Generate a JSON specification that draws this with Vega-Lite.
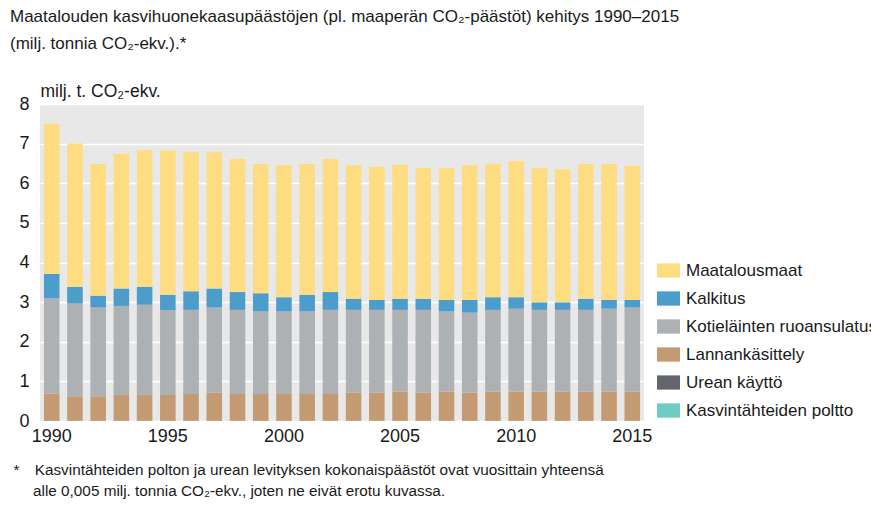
{
  "$schema": "https://vega.github.io/schema/vega-lite/v6.json",
  "width": 604,
  "height": 317,
  "autosize": {"type": "none"},
  "padding": {"left": 40, "top": 104, "right": 227, "bottom": 89},
  "background": "white",
  "title": {
    "text": ["Maatalouden kasvihuonekaasupäästöjen (pl. maaperän CO₂-päästöt) kehitys 1990–2015", "(milj. tonnia CO₂-ekv.).*"],
    "anchor": "start",
    "frame": "group",
    "dx": -30,
    "dy": -19,
    "font": "Liberation Sans",
    "fontSize": 17,
    "fontWeight": "normal",
    "color": "#1a1a1a",
    "lineHeight": 27,
    "offset": 10
  },
  "data": {
    "values": [
      {"vuosi": 1990, "Maatalousmaat": 3.79, "Kalkitus": 0.62, "Kotieläinten ruoansulatus": 2.40, "Lannankäsittely": 0.69, "Urean käyttö": 0.003, "Kasvintähteiden poltto": 0.001},
      {"vuosi": 1991, "Maatalousmaat": 3.62, "Kalkitus": 0.42, "Kotieläinten ruoansulatus": 2.34, "Lannankäsittely": 0.62, "Urean käyttö": 0.003, "Kasvintähteiden poltto": 0.001},
      {"vuosi": 1992, "Maatalousmaat": 3.32, "Kalkitus": 0.30, "Kotieläinten ruoansulatus": 2.24, "Lannankäsittely": 0.62, "Urean käyttö": 0.003, "Kasvintähteiden poltto": 0.001},
      {"vuosi": 1993, "Maatalousmaat": 3.40, "Kalkitus": 0.44, "Kotieläinten ruoansulatus": 2.25, "Lannankäsittely": 0.65, "Urean käyttö": 0.003, "Kasvintähteiden poltto": 0.001},
      {"vuosi": 1994, "Maatalousmaat": 3.45, "Kalkitus": 0.45, "Kotieläinten ruoansulatus": 2.28, "Lannankäsittely": 0.65, "Urean käyttö": 0.003, "Kasvintähteiden poltto": 0.001},
      {"vuosi": 1995, "Maatalousmaat": 3.64, "Kalkitus": 0.38, "Kotieläinten ruoansulatus": 2.15, "Lannankäsittely": 0.65, "Urean käyttö": 0.003, "Kasvintähteiden poltto": 0.001},
      {"vuosi": 1996, "Maatalousmaat": 3.51, "Kalkitus": 0.47, "Kotieläinten ruoansulatus": 2.12, "Lannankäsittely": 0.68, "Urean käyttö": 0.003, "Kasvintähteiden poltto": 0.001},
      {"vuosi": 1997, "Maatalousmaat": 3.44, "Kalkitus": 0.48, "Kotieläinten ruoansulatus": 2.15, "Lannankäsittely": 0.71, "Urean käyttö": 0.003, "Kasvintähteiden poltto": 0.001},
      {"vuosi": 1998, "Maatalousmaat": 3.36, "Kalkitus": 0.45, "Kotieläinten ruoansulatus": 2.12, "Lannankäsittely": 0.68, "Urean käyttö": 0.003, "Kasvintähteiden poltto": 0.001},
      {"vuosi": 1999, "Maatalousmaat": 3.26, "Kalkitus": 0.46, "Kotieläinten ruoansulatus": 2.08, "Lannankäsittely": 0.68, "Urean käyttö": 0.003, "Kasvintähteiden poltto": 0.001},
      {"vuosi": 2000, "Maatalousmaat": 3.33, "Kalkitus": 0.36, "Kotieläinten ruoansulatus": 2.08, "Lannankäsittely": 0.68, "Urean käyttö": 0.003, "Kasvintähteiden poltto": 0.001},
      {"vuosi": 2001, "Maatalousmaat": 3.30, "Kalkitus": 0.42, "Kotieläinten ruoansulatus": 2.08, "Lannankäsittely": 0.68, "Urean käyttö": 0.003, "Kasvintähteiden poltto": 0.001},
      {"vuosi": 2002, "Maatalousmaat": 3.36, "Kalkitus": 0.45, "Kotieläinten ruoansulatus": 2.12, "Lannankäsittely": 0.68, "Urean käyttö": 0.003, "Kasvintähteiden poltto": 0.001},
      {"vuosi": 2003, "Maatalousmaat": 3.37, "Kalkitus": 0.28, "Kotieläinten ruoansulatus": 2.09, "Lannankäsittely": 0.71, "Urean käyttö": 0.003, "Kasvintähteiden poltto": 0.001},
      {"vuosi": 2004, "Maatalousmaat": 3.36, "Kalkitus": 0.25, "Kotieläinten ruoansulatus": 2.09, "Lannankäsittely": 0.71, "Urean käyttö": 0.003, "Kasvintähteiden poltto": 0.001},
      {"vuosi": 2005, "Maatalousmaat": 3.38, "Kalkitus": 0.28, "Kotieläinten ruoansulatus": 2.06, "Lannankäsittely": 0.74, "Urean käyttö": 0.003, "Kasvintähteiden poltto": 0.001},
      {"vuosi": 2006, "Maatalousmaat": 3.30, "Kalkitus": 0.28, "Kotieläinten ruoansulatus": 2.09, "Lannankäsittely": 0.71, "Urean käyttö": 0.003, "Kasvintähteiden poltto": 0.001},
      {"vuosi": 2007, "Maatalousmaat": 3.33, "Kalkitus": 0.29, "Kotieläinten ruoansulatus": 2.02, "Lannankäsittely": 0.74, "Urean käyttö": 0.003, "Kasvintähteiden poltto": 0.001},
      {"vuosi": 2008, "Maatalousmaat": 3.40, "Kalkitus": 0.32, "Kotieläinten ruoansulatus": 2.02, "Lannankäsittely": 0.71, "Urean käyttö": 0.003, "Kasvintähteiden poltto": 0.001},
      {"vuosi": 2009, "Maatalousmaat": 3.37, "Kalkitus": 0.32, "Kotieläinten ruoansulatus": 2.06, "Lannankäsittely": 0.74, "Urean käyttö": 0.003, "Kasvintähteiden poltto": 0.001},
      {"vuosi": 2010, "Maatalousmaat": 3.44, "Kalkitus": 0.29, "Kotieläinten ruoansulatus": 2.09, "Lannankäsittely": 0.74, "Urean käyttö": 0.003, "Kasvintähteiden poltto": 0.001},
      {"vuosi": 2011, "Maatalousmaat": 3.39, "Kalkitus": 0.19, "Kotieläinten ruoansulatus": 2.06, "Lannankäsittely": 0.74, "Urean käyttö": 0.003, "Kasvintähteiden poltto": 0.001},
      {"vuosi": 2012, "Maatalousmaat": 3.36, "Kalkitus": 0.19, "Kotieläinten ruoansulatus": 2.06, "Lannankäsittely": 0.74, "Urean käyttö": 0.003, "Kasvintähteiden poltto": 0.001},
      {"vuosi": 2013, "Maatalousmaat": 3.40, "Kalkitus": 0.28, "Kotieläinten ruoansulatus": 2.06, "Lannankäsittely": 0.74, "Urean käyttö": 0.003, "Kasvintähteiden poltto": 0.001},
      {"vuosi": 2014, "Maatalousmaat": 3.43, "Kalkitus": 0.22, "Kotieläinten ruoansulatus": 2.09, "Lannankäsittely": 0.74, "Urean käyttö": 0.003, "Kasvintähteiden poltto": 0.001},
      {"vuosi": 2015, "Maatalousmaat": 3.39, "Kalkitus": 0.19, "Kotieläinten ruoansulatus": 2.12, "Lannankäsittely": 0.74, "Urean käyttö": 0.003, "Kasvintähteiden poltto": 0.001}
    ]
  },
  "transform": [
    {"fold": ["Kasvintähteiden poltto", "Urean käyttö", "Lannankäsittely", "Kotieläinten ruoansulatus", "Kalkitus", "Maatalousmaat"], "as": ["luokka", "arvo"]},
    {"window": [{"op": "row_number", "as": "jarjestys"}], "groupby": ["vuosi"]}
  ],
  "mark": {"type": "bar", "stroke": null},
  "encoding": {
    "x": {
      "field": "vuosi",
      "type": "ordinal",
      "scale": {"paddingInner": 0.33, "paddingOuter": 0.17},
      "axis": {
        "values": [1990, 1995, 2000, 2005, 2010, 2015],
        "labelAngle": 0,
        "labelFont": "Liberation Sans",
        "labelFontSize": 18,
        "labelColor": "#1a1a1a",
        "labelPadding": 6,
        "ticks": false,
        "domain": false,
        "grid": false,
        "title": ["*\u2003Kasvintähteiden polton ja urean levityksen kokonaispäästöt ovat vuosittain yhteensä", "\u200b\u2003\u00a0alle 0,005 milj. tonnia CO₂-ekv., joten ne eivät erotu kuvassa."],
        "titleFont": "Liberation Sans",
        "titleFontSize": 15.3,
        "titleFontWeight": "normal",
        "titleColor": "#1a1a1a",
        "titleAlign": "left",
        "titleAnchor": "start",
        "titleBaseline": "alphabetic",
        "titleX": -27,
        "titleY": 53,
        "titleLineHeight": 21
      }
    },
    "y": {
      "field": "arvo",
      "type": "quantitative",
      "stack": "zero",
      "scale": {"domain": [0, 8], "nice": false},
      "axis": {
        "values": [0, 1, 2, 3, 4, 5, 6, 7, 8],
        "labelFont": "Liberation Sans",
        "labelFontSize": 18,
        "labelColor": "#1a1a1a",
        "labelPadding": 11,
        "ticks": false,
        "domain": false,
        "grid": true,
        "gridColor": "white",
        "gridWidth": 1.5,
        "gridOpacity": 1,
        "title": "milj. t. CO₂-ekv.",
        "titleFont": "Liberation Sans",
        "titleFontSize": 17.5,
        "titleFontWeight": "normal",
        "titleColor": "#1a1a1a",
        "titleAngle": 0,
        "titleAlign": "left",
        "titleBaseline": "alphabetic",
        "titleX": 0,
        "titleY": -8
      }
    },
    "color": {
      "field": "luokka",
      "type": "nominal",
      "scale": {
        "domain": ["Maatalousmaat", "Kalkitus", "Kotieläinten ruoansulatus", "Lannankäsittely", "Urean käyttö", "Kasvintähteiden poltto"],
        "range": ["#FEDC82", "#4D9DCC", "#ADB1B4", "#C39A72", "#63666A", "#6DCCC3"]
      },
      "legend": {
        "title": null,
        "orient": "none",
        "legendX": 617,
        "legendY": 155,
        "symbolType": "M-1,-0.62H1V0.62H-1Z",
        "symbolSize": 529,
        "symbolStrokeWidth": 0,
        "symbolOpacity": 1,
        "labelFont": "Liberation Sans",
        "labelFontSize": 17,
        "labelColor": "#1a1a1a",
        "labelOffset": 6,
        "labelLimit": 400,
        "rowPadding": 8
      }
    },
    "order": {"field": "jarjestys", "type": "quantitative"}
  },
  "config": {
    "view": {"fill": "#e8e8e8", "stroke": null},
    "axis": {"labelFontWeight": "normal"}
  }
}
